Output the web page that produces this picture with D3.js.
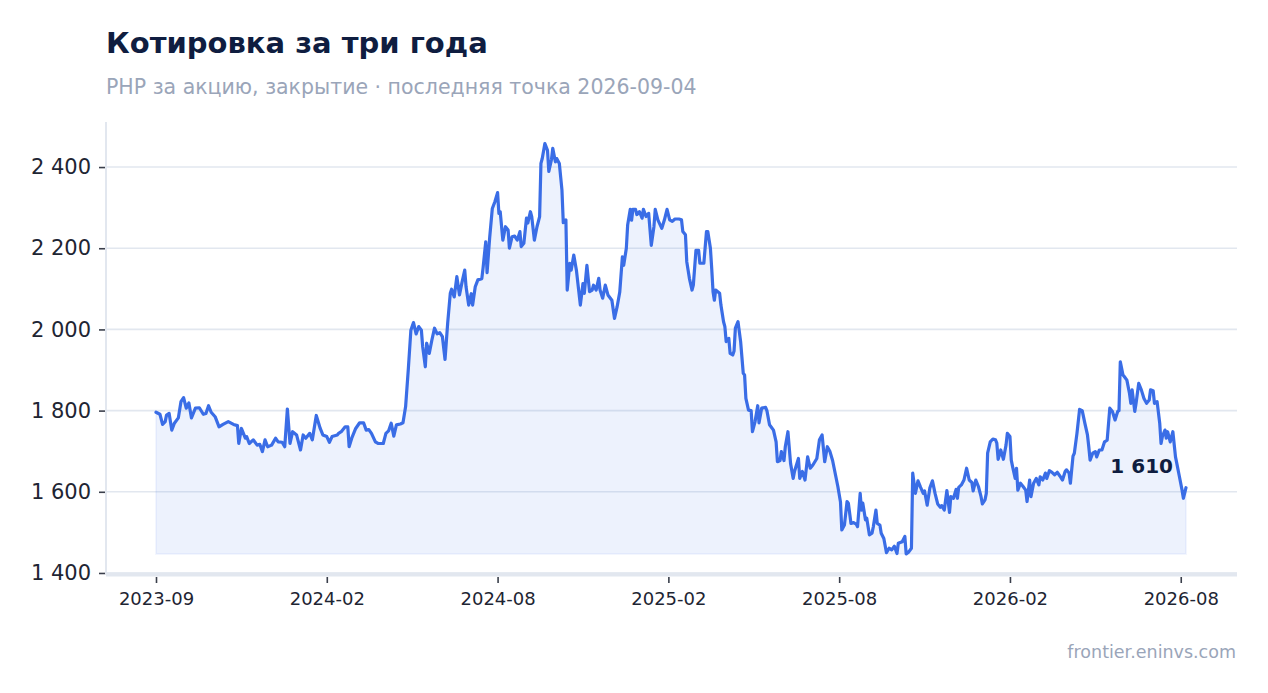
<!DOCTYPE html>
<html>
<head>
<meta charset="utf-8">
<script src="https://cdn.jsdelivr.net/npm/d3@7"></script>
<style>
  body { margin: 0; background: #fff; }
  svg { display: block; font-family: 'DejaVu Sans', sans-serif; }
</style>
</head>
<body>
<svg id="chart" width="1268" height="693"></svg>
<script>
// trading-day index since start and close price
const dayIndex = [
  0,3,5,7,8,10,12,14,17,19,21,23,25,27,30,33,36,38,40,42,45,48,51,55,59,62,63,65,68,69,
  71,74,77,79,81,83,85,88,91,93,96,98,100,102,104,107,110,112,114,117,119,122,125,127,130,132,134,138,139,141,
  144,146,147,149,152,155,158,160,162,164,167,169,173,175,177,179,181,183,186,188,190,192,194,196,198,200,202,203,205,206,
  208,210,212,214,216,218,220,222,224,225,227,229,231,233,235,236,238,240,241,243,245,248,249,251,252,254,256,258,260,261,
  262,264,266,268,269,271,273,275,277,278,280,282,283,285,286,288,290,292,293,294,296,298,299,301,302,304,305,307,309,310,
  312,313,315,316,318,320,321,323,325,326,328,330,332,333,335,337,338,340,342,344,347,349,351,353,355,356,358,359,361,362,
  363,365,366,368,370,371,373,375,377,379,380,382,385,387,389,391,393,395,398,400,401,403,404,406,408,409,411,413,414,417,
  419,420,422,423,424,425,426,429,430,432,433,434,436,437,439,440,441,443,445,447,448,449,451,453,454,456,458,459,461,464,
  465,467,470,472,473,475,476,478,479,481,483,485,486,489,490,492,494,496,498,500,503,505,507,509,511,513,515,519,521,522,
  524,526,527,529,531,533,534,536,537,538,540,541,543,545,546,548,549,551,552,554,556,558,560,562,564,565,568,570,571,573,
  575,576,578,580,582,584,585,587,589,591,593,595,597,598,600,602,604,605,607,609,610,611,613,615,617,619,621,622,624,626,
  628,629,631,632,633,635,637,639,640,641,643,645,647,648,650,651,652,654,655,656,658,660,662,663,665,666,668,670,672,673,
  675,677,678,680,682,684,686,688,690,692,693,695,696,698,699,701,703,705,707,709,710,711,713,715,716,718,720,722,724,726,
  728,730,732,733,734,736,737,739,741,742,743,745,746,748,750,752,754,756,757,759,760,762,764,765,766,768,769,770,772,774,
  776,777,779,781,782,784
];
const closePrice = [
  1796,1791,1766,1773,1789,1793,1752,1769,1782,1822,1832,1806,1819,1782,1806,1807,1791,1793,1812,1796,1785,1760,1766,1773,1766,1763,1719,1756,1732,1736,
  1719,1728,1715,1717,1699,1728,1711,1715,1732,1723,1722,1711,1804,1719,1748,1740,1703,1740,1732,1744,1728,1788,1756,1740,1736,1722,1736,1740,1744,1748,
  1760,1760,1711,1732,1756,1770,1770,1752,1753,1744,1723,1719,1719,1744,1750,1769,1737,1765,1767,1770,1810,1900,1998,2017,1989,2007,1998,1957,1908,1966,
  1941,1974,2003,1989,1992,1982,1926,2015,2089,2099,2080,2130,2085,2117,2146,2105,2060,2088,2060,2105,2122,2125,2153,2216,2140,2227,2298,2315,2337,2286,
  2290,2220,2253,2245,2200,2228,2230,2220,2241,2204,2212,2274,2262,2290,2278,2220,2253,2278,2409,2421,2458,2441,2389,2418,2446,2413,2421,2409,2343,2263,
  2270,2097,2163,2146,2183,2146,2117,2060,2113,2089,2158,2093,2097,2109,2097,2126,2097,2077,2109,2085,2072,2027,2056,2092,2179,2158,2200,2257,2296,2269,
  2296,2296,2283,2290,2274,2296,2278,2286,2207,2253,2296,2270,2249,2270,2296,2270,2266,2272,2272,2270,2241,2233,2167,2126,2097,2109,2195,2195,2163,2163,
  2241,2241,2200,2150,2093,2072,2097,2089,2060,2019,2007,1970,1978,1941,1937,1947,2003,2019,1970,1892,1888,1830,1801,1800,1748,1773,1812,1770,1806,1808,
  1800,1765,1752,1723,1674,1677,1699,1677,1711,1748,1670,1633,1650,1682,1633,1650,1629,1686,1658,1666,1682,1728,1740,1674,1711,1699,1677,1613,1575,1506,
  1518,1576,1572,1522,1524,1520,1514,1596,1555,1572,1531,1535,1494,1498,1514,1555,1522,1518,1498,1485,1450,1461,1457,1466,1448,1473,1477,1490,1447,1452,
  1461,1646,1596,1627,1611,1596,1602,1567,1609,1627,1596,1570,1562,1566,1555,1603,1549,1588,1584,1606,1584,1611,1617,1629,1658,1629,1623,1602,1629,1613,
  1588,1570,1580,1596,1695,1723,1730,1728,1720,1680,1703,1680,1715,1744,1736,1678,1662,1633,1658,1604,1621,1613,1604,1576,1629,1588,1621,1633,1617,1637,
  1629,1646,1633,1652,1648,1642,1648,1639,1629,1650,1654,1646,1621,1688,1695,1744,1803,1800,1769,1740,1711,1678,1695,1699,1686,1703,1703,1723,1727,1806,
  1798,1777,1798,1800,1920,1888,1884,1875,1842,1818,1851,1798,1818,1867,1851,1830,1818,1826,1851,1849,1818,1822,1769,1719,1736,1752,1732,1748,1723,1748,
  1686,1670,1637,1604,1584,1610
];
const xTickIndex = [0, 130, 260, 390, 520, 650, 780];
const xTickLabels = ['2023-09', '2024-02', '2024-08', '2025-02', '2025-08', '2026-02', '2026-08'];
const yTicks = [1400, 1600, 1800, 2000, 2200, 2400];

const titleText = 'Котировка за три года';
const subtitleText = 'PHP за акцию, закрытие · последняя точка 2026-09-04';
const sourceText = 'frontier.eninvs.com';

// layout
const plot = { left: 106, right: 1237, top: 122, bottom: 575 };
const innerPad = 50;
const navy = '#0f1d40';
const grey = '#9aa5b9';
const blue = '#3a6de6';

const data = dayIndex.map((d, i) => ({ day: d, close: closePrice[i] }));
const ruFormat = d3.formatLocale({ decimal: ',', thousands: ' ', grouping: [3], currency: ['', ''] }).format(',d');

const svg = d3.select('#chart');

const x = d3.scaleLinear()
            .domain([0, d3.max(dayIndex)])
            .range([plot.left + innerPad, plot.right - innerPad - 1]);
const y = d3.scaleLinear()
            .domain([1395, 2511])
            .range([plot.bottom, plot.top]);

// grid
svg.append('g')
   .selectAll('line')
   .data(yTicks)
   .enter()
   .append('line')
   .attr('x1', plot.left)
   .attr('x2', plot.right)
   .attr('y1', d => y(d))
   .attr('y2', d => y(d))
   .attr('stroke', '#e2e7ef')
   .attr('stroke-width', 1.6);

// area + line
const baseline = y(d3.min(closePrice));
const area = d3.area()
               .x(d => x(d.day))
               .y0(baseline)
               .y1(d => y(d.close));
const line = d3.line()
               .x(d => x(d.day))
               .y(d => y(d.close));

svg.append('path')
   .datum(data)
   .attr('d', area)
   .attr('fill', blue)
   .attr('fill-opacity', 0.09)
   .attr('stroke', blue)
   .attr('stroke-opacity', 0.06)
   .attr('stroke-width', 2);

svg.append('path')
   .datum(data)
   .attr('d', line)
   .attr('fill', 'none')
   .attr('stroke', blue)
   .attr('stroke-width', 3.2)
   .attr('stroke-linejoin', 'round')
   .attr('stroke-linecap', 'round');

// axes lines
svg.append('line')
   .attr('x1', plot.left).attr('x2', plot.left)
   .attr('y1', plot.top).attr('y2', plot.bottom)
   .attr('stroke', '#e2e7ef')
   .attr('stroke-width', 2);
svg.append('line')
   .attr('x1', plot.left).attr('x2', plot.right)
   .attr('y1', plot.bottom - 0.5).attr('y2', plot.bottom - 0.5)
   .attr('stroke', '#e2e7ef')
   .attr('stroke-width', 4);

const yAxis = d3.axisLeft(y)
                .tickValues(yTicks)
                .tickSize(6)
                .tickPadding(8)
                .tickFormat(ruFormat);
const yAxisNode = svg.append('g')
   .attr('transform', `translate(${plot.left - 1},0)`)
   .call(yAxis);

const xAxis = d3.axisBottom(x)
                .tickValues(xTickIndex)
                .tickSize(6)
                .tickPadding(9)
                .tickFormat((d, i) => xTickLabels[i]);
const xAxisNode = svg.append('g')
   .attr('transform', `translate(0,${plot.bottom + 2})`)
   .call(xAxis);

[yAxisNode, xAxisNode].forEach(node => {
  node.select('.domain').remove();
  node.selectAll('.tick line').attr('stroke', '#3a3f4b').attr('stroke-width', 1.6);
  node.selectAll('.tick text')
      .attr('fill', '#1e2533')
      .style('font-family', "'DejaVu Sans', sans-serif")
      .style('font-size', '21px');
});
xAxisNode.selectAll('.tick text').style('font-size', '18px');

// last value label
const last = data[data.length - 1];
svg.append('text')
   .attr('x', x(last.day) - 13)
   .attr('y', y(last.close) - 15)
   .attr('text-anchor', 'end')
   .attr('fill', navy)
   .style('font-size', '20px')
   .style('font-weight', 'bold')
   .text(ruFormat(last.close));

// titles
svg.append('text')
   .attr('x', plot.left)
   .attr('y', 53)
   .attr('fill', navy)
   .style('font-size', '29px')
   .style('font-weight', 'bold')
   .text(titleText);
svg.append('text')
   .attr('x', plot.left)
   .attr('y', 94)
   .attr('fill', grey)
   .style('font-size', '20.5px')
   .text(subtitleText);
svg.append('text')
   .attr('x', plot.right - 1)
   .attr('y', 658)
   .attr('text-anchor', 'end')
   .attr('fill', grey)
   .style('font-size', '17.5px')
   .text(sourceText);
</script>
</body>
</html>
